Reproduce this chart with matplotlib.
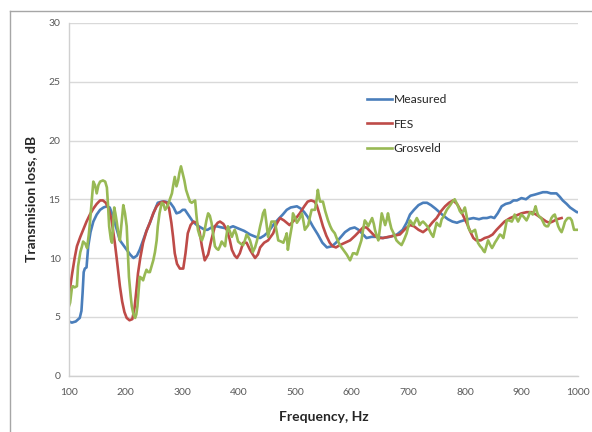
import matplotlib
matplotlib.use("Agg")
import matplotlib.pyplot as plt
from matplotlib.lines import Line2D

# ---------------- data ----------------
meas_f = [100,105,112,119,122,124,126,128,131,134,138,143,149,155,161,167,172,178,184,190,196,202,208,214,220,225,231,237,243,250,257,264,270,279,285,290,296,301,305,312,319,326,333,340,345,352,361,370,380,390,400,410,420,430,438,445,452,461,470,478,485,492,503,510,516,522,531,540,548,556,565,572,579,588,597,605,612,620,626,635,645,655,667,680,690,697,703,710,718,726,733,740,748,755,762,770,778,786,791,798,805,815,825,832,839,846,852,858,865,872,880,886,892,900,908,916,924,931,938,945,952,958,962,968,973,980,986,992,998,1000]
meas_v = [4.6,4.5,4.6,4.9,5.5,7.0,8.8,9.1,9.2,11.0,12.2,13.1,13.7,14.1,14.3,14.4,14.3,13.5,12.5,11.5,11.1,10.7,10.3,10.0,10.2,10.7,11.5,12.3,13.0,13.9,14.7,14.8,14.8,14.7,14.3,13.8,13.9,14.1,14.1,13.6,13.1,12.8,12.6,12.4,12.4,12.6,12.7,12.6,12.5,12.7,12.5,12.3,12.0,11.8,11.7,11.9,12.2,12.8,13.3,13.7,14.1,14.3,14.4,14.2,13.9,13.5,12.7,12.0,11.3,10.9,11.0,11.3,11.7,12.2,12.5,12.6,12.4,12.0,11.7,11.8,11.8,11.7,11.8,12.0,12.4,13.0,13.7,14.1,14.5,14.7,14.7,14.5,14.2,13.9,13.6,13.3,13.1,13.0,13.1,13.2,13.3,13.4,13.3,13.4,13.4,13.5,13.4,13.8,14.4,14.6,14.7,14.9,14.9,15.1,15.0,15.3,15.4,15.5,15.6,15.6,15.5,15.5,15.5,15.2,14.9,14.6,14.3,14.1,13.9,13.9]

fes_f = [100,105,110,114,120,125,131,137,143,149,155,160,165,170,175,178,181,185,190,194,198,202,207,212,216,219,222,226,231,237,243,249,255,261,267,273,277,281,284,287,291,296,302,306,310,315,320,326,331,335,340,346,352,358,363,367,373,379,384,388,393,397,402,408,414,420,425,429,434,438,445,452,461,467,473,480,490,500,508,516,522,528,534,538,543,549,555,561,566,572,579,588,597,606,614,620,626,632,640,648,655,665,675,685,695,703,710,718,726,734,742,750,758,765,772,779,786,792,798,804,810,815,820,828,835,842,849,856,862,870,880,890,900,909,918,926,935,944,950,955,963,971]
fes_v = [6.8,8.5,10.0,11.0,11.8,12.4,13.1,13.7,14.2,14.6,14.9,14.9,14.7,14.2,13.3,12.3,11.3,9.7,7.6,6.3,5.4,4.9,4.7,4.8,5.8,7.2,8.7,10.0,11.3,12.3,13.0,13.8,14.4,14.7,14.8,14.7,14.2,13.0,11.8,10.4,9.5,9.1,9.1,10.4,12.1,12.8,13.1,13.0,12.2,11.0,9.8,10.3,11.6,12.7,13.0,13.1,12.9,12.4,11.6,10.7,10.2,10.0,10.4,11.3,11.3,10.7,10.3,10.0,10.3,10.9,11.3,11.5,12.1,12.9,13.4,13.2,12.8,13.3,13.8,14.4,14.8,14.9,14.8,14.5,13.7,12.7,11.9,11.3,11.0,10.9,11.1,11.3,11.5,11.9,12.3,12.6,12.6,12.3,11.9,11.7,11.7,11.8,11.9,12.0,12.5,12.8,12.7,12.4,12.2,12.5,13.0,13.4,14.0,14.4,14.7,14.9,14.6,14.1,13.5,12.9,12.2,11.7,11.5,11.5,11.7,11.8,12.0,12.4,12.7,13.1,13.4,13.6,13.8,13.9,13.9,13.7,13.4,13.1,13.0,13.1,13.3,13.4]

gros_f = [100,102,105,107,110,114,116,120,123,125,129,132,135,137,140,143,146,149,152,155,160,164,167,169,171,174,176,178,180,182,184,187,190,193,196,199,202,204,206,209,211,214,217,219,221,223,225,228,231,234,237,240,243,246,249,252,255,257,260,264,267,270,274,279,282,284,287,290,293,295,298,301,304,307,311,314,317,320,323,325,328,331,335,338,340,343,346,349,352,355,358,361,364,367,370,373,376,378,381,385,388,391,393,396,399,404,408,411,414,417,420,423,425,429,432,435,438,441,443,446,449,452,455,458,464,467,470,475,479,483,485,487,490,494,496,500,503,507,512,515,517,520,523,526,529,535,538,540,542,544,549,553,558,562,565,570,574,579,585,591,597,602,605,609,613,617,620,623,626,629,632,636,639,641,644,647,650,653,656,659,662,664,667,670,675,679,683,688,692,697,700,703,706,709,712,715,718,720,723,726,730,735,740,744,747,750,753,756,759,762,765,768,771,774,778,782,785,788,791,794,797,800,803,806,809,812,815,818,821,823,827,830,833,835,838,841,845,848,851,853,857,862,865,868,871,874,878,883,886,888,891,894,897,900,904,909,912,915,918,920,923,925,927,929,932,935,938,941,944,947,950,953,956,959,962,965,968,971,974,977,980,982,986,989,991,993,998,1000]
gros_v = [5.9,6.2,7.4,7.6,7.5,7.6,9.3,10.5,11.0,11.4,11.2,10.85,12.0,13.0,14.8,16.5,16.2,15.5,16.2,16.5,16.6,16.5,16.0,14.5,12.7,11.6,11.3,12.8,14.3,13.8,13.2,12.2,11.5,13.0,14.5,13.8,12.7,10.5,8.4,6.8,5.9,5.2,4.9,5.2,5.9,7.2,8.4,8.3,8.1,8.6,9.0,8.8,8.8,9.3,9.8,10.5,11.5,12.7,13.8,14.7,14.6,14.1,14.4,15.1,15.5,16.1,16.9,16.1,16.6,17.2,17.8,17.2,16.6,15.8,15.2,14.8,14.7,14.8,14.9,13.8,12.4,11.9,11.5,11.9,12.4,13.2,13.8,13.6,13.0,12.0,11.0,10.8,10.7,11.0,11.4,11.2,11.0,11.8,12.7,12.2,11.8,12.2,12.4,12.0,11.4,11.2,11.1,11.5,12.0,11.8,11.5,11.0,10.5,10.9,11.4,12.0,12.7,13.3,13.8,14.1,13.0,11.8,12.5,13.1,13.1,12.3,11.5,11.4,11.3,11.8,12.1,10.7,11.6,12.7,13.8,13.4,13.0,13.3,13.8,13.0,12.4,12.6,12.8,13.5,14.1,14.1,15.0,15.8,15.2,14.8,14.8,14.0,13.2,12.7,12.4,12.1,11.6,11.1,10.7,10.3,9.8,10.4,10.4,10.3,10.9,11.5,12.4,13.2,13.0,12.7,13.0,13.4,12.9,12.4,11.9,11.5,12.6,13.8,13.3,12.8,13.3,13.8,13.1,12.5,12.0,11.5,11.3,11.1,11.5,12.1,12.7,13.2,13.0,12.8,13.1,13.4,13.1,12.8,13.0,13.1,12.9,12.6,12.1,11.8,12.4,13.0,12.8,12.7,13.3,13.5,13.8,14.1,14.3,14.5,14.8,15.0,14.7,14.4,14.0,13.8,14.0,14.3,13.6,12.6,12.3,12.2,12.3,12.4,11.8,11.3,11.0,10.85,10.6,10.5,11.0,11.5,11.1,10.85,11.1,11.3,11.6,12.0,11.9,11.7,12.4,13.2,13.2,13.1,13.4,13.7,13.4,13.1,13.4,13.7,13.5,13.2,13.5,13.9,13.8,13.7,14.1,14.4,14.0,13.7,13.5,13.4,13.1,12.8,12.7,12.7,13.0,13.4,13.6,13.7,13.2,12.7,12.4,12.2,12.6,13.1,13.3,13.4,13.4,13.2,12.8,12.4,12.4,12.4]

series_names = ["Measured", "FES", "Grosveld"]
series_colors = ["#4a7ebb", "#be4b48", "#98b954"]

x_ticks = [100, 200, 300, 400, 500, 600, 700, 800, 900, 1000]
y_ticks = [0, 5, 10, 15, 20, 25, 30]

# ---------------- plot ----------------
plt.rcParams['font.family'] = ['Lato', 'DejaVu Sans']

fig = plt.figure(figsize=(5.92, 4.32), dpi=100)
ax = fig.add_axes([69/592, 1 - 375.5/432, (578-69)/592, (375.5-23)/432])

for f, v, name, c in zip([meas_f, fes_f, gros_f], [meas_v, fes_v, gros_v],
                         series_names, series_colors):
    ax.plot(f, v, color=c, lw=1.9, label=name, solid_joinstyle='round')

ax.set_xlim(100, 1000)
ax.set_ylim(0, 30)
ax.set_xticks(x_ticks)
ax.set_yticks(y_ticks)
ax.grid(axis='y', color='#d9d9d9', lw=1.0)
ax.set_axisbelow(True)
for s in ['top', 'right']:
    ax.spines[s].set_visible(False)
for s in ['left', 'bottom']:
    ax.spines[s].set_color('#d0d0d0')
    ax.spines[s].set_linewidth(1.0)
ax.tick_params(axis='both', length=0, labelsize=7.5, colors='#595959')
ax.tick_params(axis='x', pad=9)
ax.tick_params(axis='y', pad=6)

ax.set_xlabel("Frequency, Hz", fontsize=10, fontweight='bold', color='#262626', labelpad=10)
ax.set_ylabel("Transmision loss, dB", fontsize=10, fontweight='bold', color='#262626', labelpad=8)

leg = ax.legend(loc='upper left', bbox_to_anchor=(0.575, 0.812), frameon=False,
                fontsize=8.7, handlelength=2.1, handletextpad=0.15,
                labelspacing=1.12, borderaxespad=0)
for t in leg.get_texts():
    t.set_color('#262626')

# outer chart border (left and top edges visible)
fig.add_artist(Line2D([10/592, 10/592], [0, 1 - 11/432], transform=fig.transFigure,
                      color='#a6a6a6', lw=1.0))
fig.add_artist(Line2D([10/592, 1], [1 - 11/432, 1 - 11/432], transform=fig.transFigure,
                      color='#a6a6a6', lw=1.0))

fig.savefig("out.png", dpi=100)
